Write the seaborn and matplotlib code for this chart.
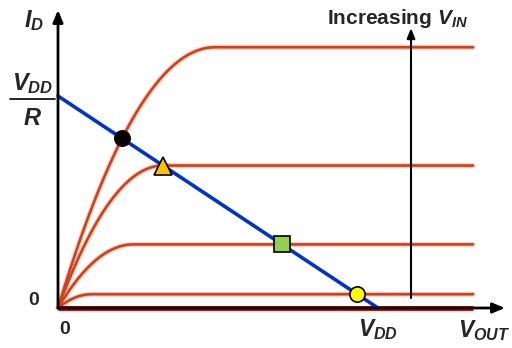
import numpy as np
import pandas as pd
import matplotlib
matplotlib.use("Agg")
import matplotlib.pyplot as plt
import seaborn as sns

sns.set_theme(style="white")
plt.rcParams["font.family"] = ["Liberation Sans", "DejaVu Sans"]
plt.rcParams["mathtext.fontset"] = "custom"
plt.rcParams["mathtext.it"] = "Liberation Sans:bold:italic"
plt.rcParams["mathtext.rm"] = "Liberation Sans:bold"
plt.rcParams["mathtext.bf"] = "Liberation Sans:bold"

# Supply voltage and load-line intercept (VDD / R), normalised units
VDD = 10.0
I_MAX = 1.0

# Transistor output curves: saturation current and knee voltage (V_DS,sat)
sat_current = [1.23, 0.672, 0.30, 0.065]
knee_voltage = [4.9, 3.28, 2.35, 1.05]
curve_end = 12.97

# Operating points on the load line
op_vout = [2.0, 3.28, 7.0, 9.35]
op_marker = ["o", "^", "s", "o"]
op_color = ["#000000", "#ffc000", "#92d050", "#ffff00"]
op_size = [11, 13, 11, 11]

fig = plt.figure(figsize=(5.12, 3.48), dpi=100)
ax = fig.add_axes([0, 0, 1, 1])
ax.set_xlim(-58 / 32, (512 - 58) / 32)
ax.set_ylim(-40 / 212, 308 / 212)
ax.axis("off")

curve_color = "#d2401a"

# Square-law MOSFET curves: triode region up to the knee, flat beyond
rows = []
for k, (isat, vk) in enumerate(zip(sat_current, knee_voltage)):
    v = np.linspace(0, curve_end, 400)
    i = np.where(v < vk, isat * (1 - (1 - v / vk) ** 2), isat)
    rows.append(pd.DataFrame({"vout": v, "id": i, "curve": k}))
curves = pd.concat(rows)

# Axes arrows
ax.annotate("", xy=(0, 298 / 212), xytext=(0, 0),
            arrowprops=dict(arrowstyle="-|>,head_length=0.6,head_width=0.25",
                            color="black", lw=2, shrinkA=0, shrinkB=0))
ax.annotate("", xy=((505 - 58) / 32, 0), xytext=(0, 0),
            arrowprops=dict(arrowstyle="-|>,head_length=0.6,head_width=0.25",
                            color="black", lw=2, shrinkA=0, shrinkB=0))

# Faint halo under each curve, then the curve itself
sns.lineplot(data=curves, x="vout", y="id", units="curve", estimator=None,
             color="#f6d0c4", lw=3.6, ax=ax, legend=False)
sns.lineplot(data=curves, x="vout", y="id", units="curve", estimator=None,
             color=curve_color, lw=1.9, ax=ax, legend=False)

# Cut-off line along the axis
ax.plot([0, curve_end], [0, 0], color="#c00000", lw=3.5, solid_capstyle="butt")

# Load line
load_v = np.array([0, VDD])
sns.lineplot(x=load_v, y=I_MAX * (1 - load_v / VDD), color="#0033cc", lw=2.6, ax=ax)

# Increasing V_IN arrow
ax.annotate("", xy=((411 - 58) / 32, 280 / 212), xytext=((411 - 58) / 32, 10 / 212),
            arrowprops=dict(arrowstyle="-|>,head_length=0.5,head_width=0.2",
                            color="black", lw=1.5, shrinkA=0, shrinkB=0))

# Operating points
for v, m, c, s in zip(op_vout, op_marker, op_color, op_size):
    ax.plot(v, I_MAX * (1 - v / VDD), marker=m, ms=s, mfc=c, mec="black",
            mew=1.2, zorder=5)

# Labels
ax.text(-0.75, 1.355, r"$I_D$", fontsize=17, ha="center", va="center")
ax.text(-0.8, 1.06, r"$V_{DD}$", fontsize=17, ha="center", va="center")
ax.plot([-1.5, -0.1], [0.985, 0.985], color="black", lw=1.2)
ax.text(-0.8, 0.89, r"$R$", fontsize=17, ha="center", va="center")
ax.text(-0.75, 0.035, "0", fontsize=14, fontweight="bold", ha="center", va="center")
ax.text(0.2, -0.1, "0", fontsize=14, fontweight="bold", ha="center", va="center")
ax.text(VDD, -0.1, r"$V_{DD}$", fontsize=16.5, ha="center", va="center")
ax.text(13.3, -0.105, r"$V_{OUT}$", fontsize=16.5, ha="center", va="center")
ax.text(10.62, 1.365, r"Increasing $V_{IN}$", fontsize=15, fontweight="bold",
        ha="center", va="center")

fig.savefig("out.png", dpi=100)
